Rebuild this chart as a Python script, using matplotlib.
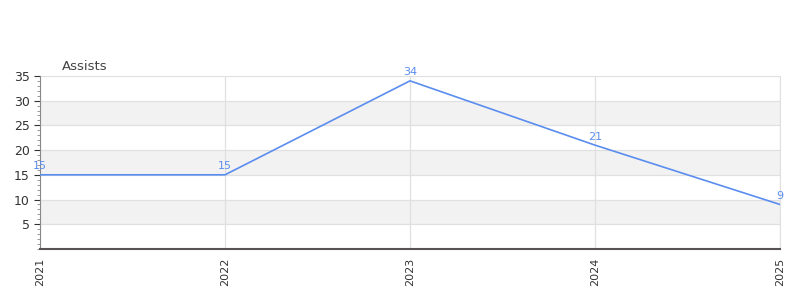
import matplotlib
matplotlib.use("Agg")
import matplotlib.pyplot as plt
from matplotlib.ticker import MultipleLocator

years = ["2021", "2022", "2023", "2024", "2025"]
assists = [15, 15, 34, 21, 9]

fig = plt.figure(figsize=(8, 3), dpi=100)
ax = fig.add_axes([0.05, 0.17, 0.925, 0.577])
x = list(range(len(years)))
ax.set_xlim(0, len(years) - 1)
ax.set_ylim(0, 35)

for lo in range(5, 35, 10):
    ax.axhspan(lo, lo + 5, color="#f2f2f2", zorder=0, lw=0)
ax.yaxis.set_major_locator(MultipleLocator(5))
ax.yaxis.set_minor_locator(MultipleLocator(1))
ax.grid(True, which="major", color="#e0e0e0", lw=0.9, zorder=1)
ax.set_axisbelow(True)

line_color = "#5b8def"
ax.plot(x, assists, color=line_color, lw=1.2, zorder=3)
for xi, v in zip(x, assists):
    ax.text(xi, v + 0.7, str(v), color=line_color, fontsize=8, ha="center", va="bottom", zorder=4)

ax.axhline(0, color="#cc0000", lw=0.8, zorder=4)
ax.set_xticks(x)
ax.set_xticklabels(years, rotation=90, fontsize=8, color="#333333")
ax.set_yticks([5, 10, 15, 20, 25, 30, 35])
ax.tick_params(axis="y", labelsize=9, colors="#333333", which="major", length=4)
ax.tick_params(axis="y", which="minor", length=2, color="#888888")
ax.tick_params(axis="x", length=0, pad=6)
ax.spines["top"].set_visible(False)
ax.spines["right"].set_color("#e0e0e0")
ax.spines["left"].set_color("#888888")
ax.spines["bottom"].set_color("#555555")
ax.spines["bottom"].set_linewidth(1.5)

fig.text(62 / 800, 1 - 66 / 300, "Assists", fontsize=9.5, color="#444444", va="center", ha="left")

fig.savefig("out.png", dpi=100)
